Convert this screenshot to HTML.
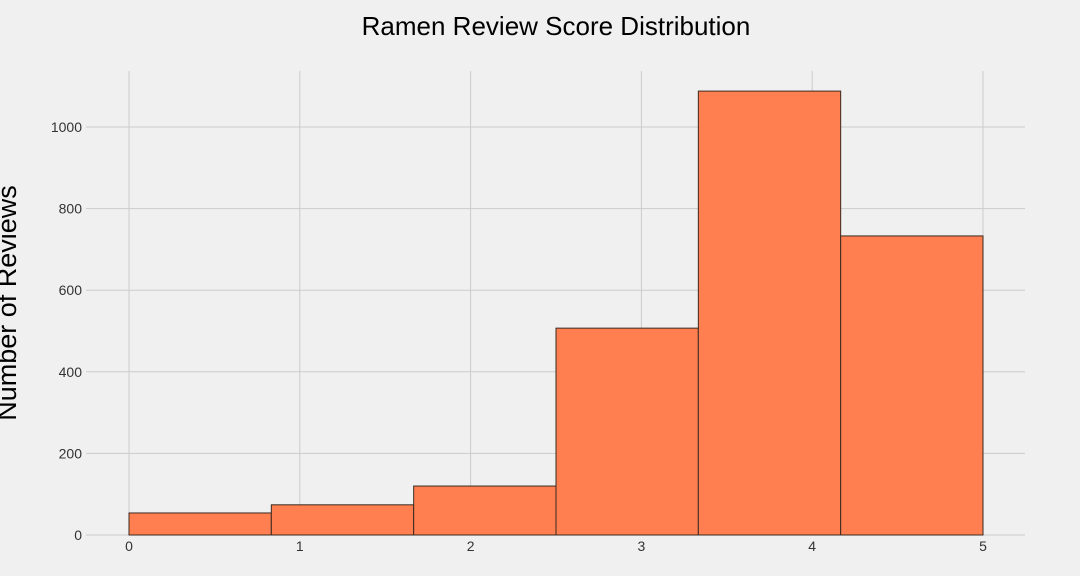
<!DOCTYPE html>
<html><head><meta charset="utf-8"><style>
body{margin:0;background:#f0f0f0;}
svg{display:block;font-family:"Liberation Sans",Arial,sans-serif;}
</style></head><body>
<svg id="chart" width="1080" height="576">
<rect width="1080" height="576" fill="#f0f0f0"/>
<text x="556" y="35" text-anchor="middle" font-size="26" fill="#000">Ramen Review Score Distribution</text>
<text transform="translate(16,303) rotate(-90)" text-anchor="middle" font-size="27" fill="#000">Number of Reviews</text>
<g id="grid"></g><g id="bars"></g><g id="ticks"></g>
</svg>
<script>
const binEdges=[0,0.8333,1.6667,2.5,3.3333,4.1667,5];
const counts=[54,74,120,507,1088,733];
const xTicks=[0,1,2,3,4,5];
const yTicks=[0,200,400,600,800,1000];
const NS="http://www.w3.org/2000/svg";
function xs(v){return 129+v*170.8;}
function ys(v){return 535-v*0.408;}
function mk(tag,attrs,parent){const e=document.createElementNS(NS,tag);for(const k in attrs)e.setAttribute(k,attrs[k]);document.getElementById(parent).appendChild(e);return e;}
xTicks.forEach(t=>{
 const l=mk('line',{x1:xs(t),x2:xs(t),y1:71,y2:535,stroke:'#cbcbcb','stroke-width':1},'grid');
 
 
 const tx=mk('text',{x:xs(t),y:551,'text-anchor':'middle','font-size':14,fill:'#333'},'ticks');
 tx.textContent=t;
 
 
});
yTicks.forEach(t=>{
 const l=mk('line',{x1:86,x2:1025,y1:ys(t),y2:ys(t),stroke:'#cbcbcb','stroke-width':1},'grid');
 
 
 const tx=mk('text',{x:82,y:ys(t)+5,'text-anchor':'end','font-size':14,fill:'#333'},'ticks');
 tx.textContent=t;
 
 
});
counts.forEach((c,i)=>{
 const x0=xs(binEdges[i]),x1=xs(binEdges[i+1]);
 const r=mk('rect',{x:x0,y:ys(c),width:x1-x0,height:ys(0)-ys(c),fill:'#ff7f50',stroke:'#3a2a20','stroke-width':1},'bars');
 
 
});
</script>
</body></html>
